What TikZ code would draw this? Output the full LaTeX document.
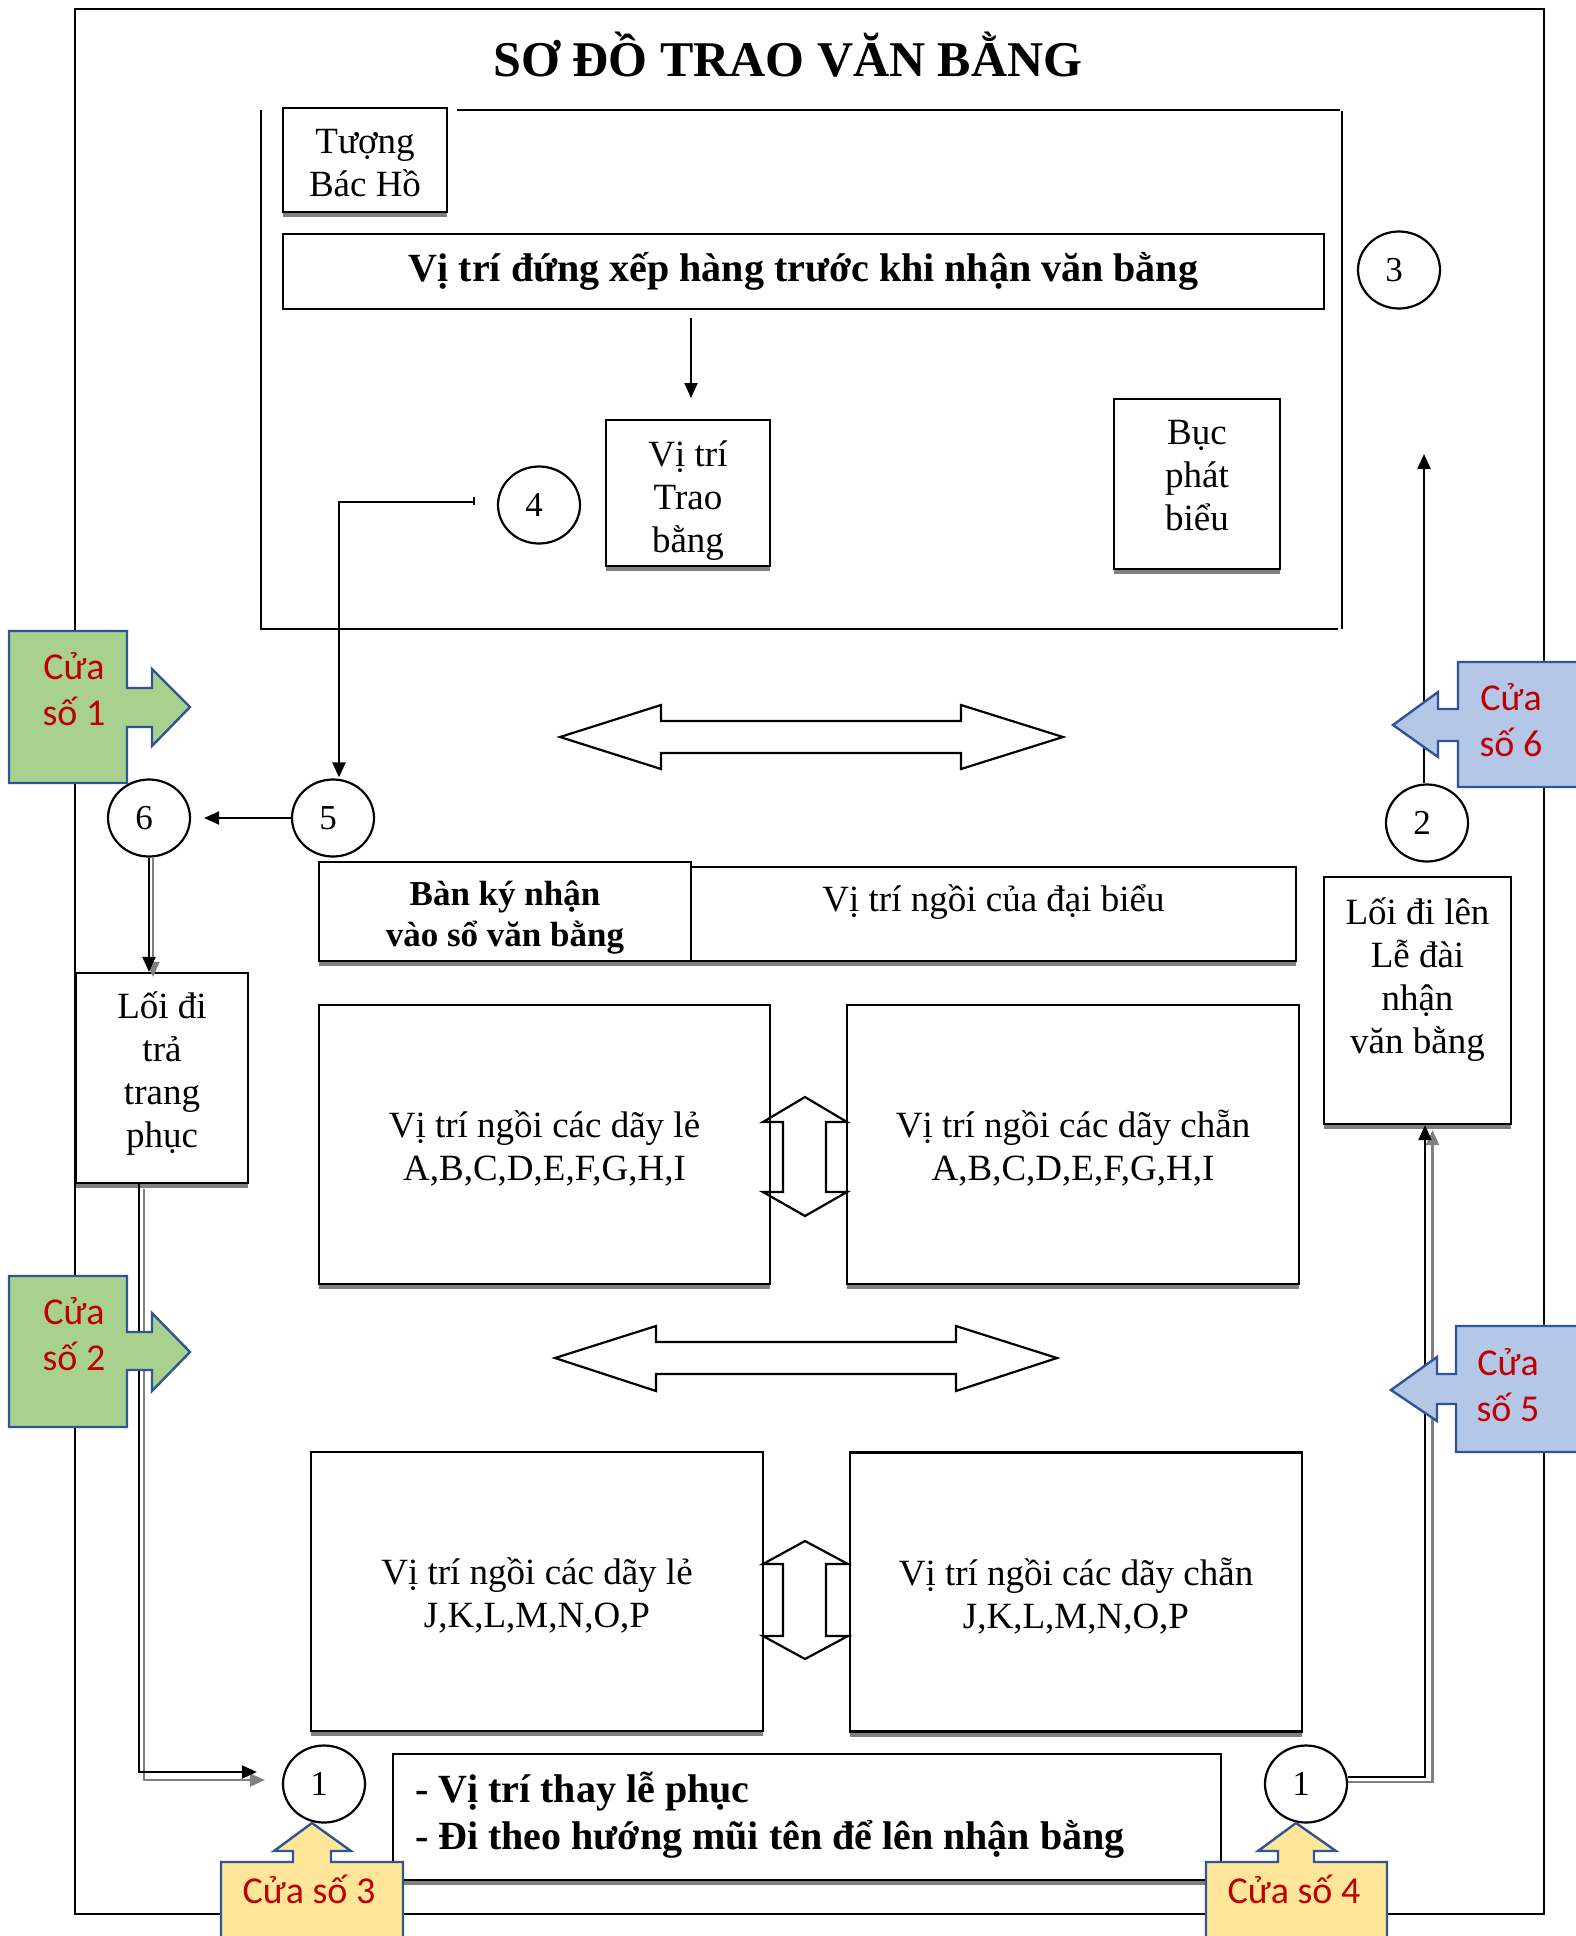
\documentclass[tikz,border=0pt]{standalone}
\usepackage{fontspec}
\setmainfont{Liberation Serif}
\newfontfamily\calibrifont{Carlito}
\usetikzlibrary{arrows.meta,shapes.geometric,shadows}
\definecolor{dred}{HTML}{C00000}
\definecolor{cborder}{HTML}{2F5597}
\definecolor{cgreen}{HTML}{A9D18E}
\definecolor{cblue}{HTML}{B4C7E7}
\definecolor{cyellow}{HTML}{FFE699}
\newcommand{\fReg}{\fontsize{37}{43}\selectfont}
\newcommand{\fNum}{\fontsize{35}{40}\selectfont}
\newcommand{\fBig}{\fontsize{40}{47}\selectfont\bfseries}
\newcommand{\fBan}{\fontsize{35}{41}\selectfont\bfseries}
\newcommand{\fTitle}{\fontsize{50}{60}\selectfont\bfseries}
\newcommand{\fCua}{\calibrifont\fontsize{38}{46}\selectfont}
\begin{document}
\begin{tikzpicture}[x=1pt,y=-1pt,line width=2.2pt,
  box/.style={draw,fill=white,rectangle,inner sep=0pt,align=center,font=\fReg},
  shbox/.style={box,drop shadow={shadow xshift=0pt,shadow yshift=-5pt,fill=black!50,opacity=1}},
  lbl/.style={align=center,font=\fReg,inner sep=0pt},
  num/.style={draw,fill=white,ellipse,minimum width=82pt,minimum height=77pt,inner sep=0pt,
    label={[font=\fNum,inner sep=0pt,xshift=-5pt]center:#1}},
  arr/.style={-{Triangle[length=15pt,width=13pt]}},
  sharr/.style={arr,draw=black!50},
  dblarrow/.style={draw,line join=miter},
  callout/.style={draw=cborder,line width=2.4pt,line join=miter},
  ctext/.style={text=dred,font=\fCua,align=center,inner sep=0pt}]
\useasboundingbox (0,0) rectangle (1576,1936);
\fill[white] (0,0) rectangle (1576,1936);

% outer frame
\draw[line width=2pt] (75,9) rectangle (1544,1914);

% stage outline
\draw (261,110) -- (261,629) -- (1338,629);
\draw (457,110) -- (1340,110);
\draw (1342,111) -- (1342,629);

% boxes
\node[shbox,minimum width=164pt,minimum height=104pt,
  label={[lbl,yshift=-3pt]center:Tượng\\Bác Hồ}] (tuong) at (365,160) {};
\node[box,minimum width=1041pt,minimum height=75pt,font=\fBig] (xephang) at (803.5,271.5) {Vị trí đứng xếp hàng trước khi nhận văn bằng};
\node[shbox,minimum width=164pt,minimum height=146pt,
  label={[lbl,yshift=-8pt]center:Vị trí\\Trao\\bằng}] (trao) at (688,493) {};
\node[shbox,minimum width=166pt,minimum height=170pt,
  label={[lbl,yshift=8pt]center:Bục\\phát\\biểu}] (buc) at (1197,484) {};
\node[shbox,minimum width=372pt,minimum height=99pt,
  label={[lbl,font=\fBan,yshift=-6pt]center:Bàn ký nhận\\vào sổ văn bằng}] (banky) at (505,911.5) {};
\node[shbox,minimum width=605pt,minimum height=94pt,
  label={[lbl,yshift=12pt]center:Vị trí ngồi của đại biểu}] (daibieu) at (993.5,914) {};
\node[shbox,minimum width=172pt,minimum height=210pt,
  label={[lbl,yshift=4pt]center:Lối đi\\trả\\trang\\phục}] (loitra) at (162,1078) {};
\node[shbox,minimum width=187pt,minimum height=247pt,
  label={[lbl,yshift=21pt]center:Lối đi lên\\Lễ đài\\nhận\\văn bằng}] (loilen) at (1417.5,1000.5) {};
\node[shbox,minimum width=451pt,minimum height=279pt,
  label={[lbl,yshift=-4pt]center:Vị trí ngồi các dãy lẻ\\A,B,C,D,E,F,G,H,I}] (seatAL) at (544.5,1144.5) {};
\node[shbox,minimum width=452pt,minimum height=279pt,
  label={[lbl,yshift=-4pt]center:Vị trí ngồi các dãy chẵn\\A,B,C,D,E,F,G,H,I}] (seatAR) at (1073,1144.5) {};
\node[shbox,minimum width=452pt,minimum height=279pt,
  label={[lbl,yshift=-4pt]center:Vị trí ngồi các dãy lẻ\\J,K,L,M,N,O,P}] (seatJL) at (537,1591.5) {};
\node[shbox,minimum width=452pt,minimum height=279pt,
  label={[lbl,yshift=-4pt]center:Vị trí ngồi các dãy chẵn\\J,K,L,M,N,O,P}] (seatJR) at (1076,1592) {};
\node[shbox,minimum width=828pt,minimum height=126pt] (note) at (807,1817) {};
\node[anchor=west,align=left,inner sep=0pt,font=\fBig] (notetext) at (414,1815) {- Vị trí thay lễ phục\\- Đi theo hướng mũi tên để lên nhận bằng};

% numbered circles
\node[num=3] (c3) at (1399,270) {};
\node[num=4] (c4) at (539,505) {};
\node[num=5] (c5) at (333,818) {};
\node[num=6] (c6) at (149,818) {};
\node[num=2] (c2) at (1427,823) {};
\node[num=1] (c1L) at (324,1784) {};
\node[num=1] (c1R) at (1306,1784) {};

% connectors
\coordinate (p4) at (474,502);
\coordinate (up2) at (1424,454);
\draw[arr] ([yshift=-8pt]xephang.south -| 691,0) -- (691,398);
\draw[arr] (p4) -| ([xshift=6pt,yshift=1pt]c5.north);
\draw[line width=1.5pt] (p4) ++(0,-5) -- ++(0,8);
\draw[arr] (c5.west) -- ([xshift=13pt]c6.east);
\draw[arr] (c2.north -| up2) -- (up2);
% 6 -> loi tra (with shadow)
\draw[sharr] ([xshift=4pt]c6.south) -- ([xshift=4pt,yshift=-5pt]c6.south |- loitra.north);
\draw[arr] (c6.south) -- (c6.south |- loitra.north);
% loi tra -> 1 left (with shadow)
\draw[sharr] ([xshift=-18pt,yshift=-5pt]loitra.south) |- ([xshift=-17pt,yshift=4pt]c1L.west);
\draw[arr] ([xshift=-23pt]loitra.south) |- ([xshift=-25pt,yshift=12pt]c1L.west);
% 1 right -> loi len (with shadow)
\draw[sharr] ([yshift=2pt]c1R.east) -| ([xshift=15pt,yshift=-5pt]loilen.south);
\draw[arr] ([yshift=7pt]c1R.east) -| ([xshift=7.5pt]loilen.south);

% double arrows
\draw[dblarrow] (560,737) -- (661,705) -- (661,721) -- (961,721) -- (961,705) -- (1063,737) -- (961,769) -- (961,753) -- (661,753) -- (661,769) -- cycle;
\draw[dblarrow] (555,1358) -- (656,1326) -- (656,1342) -- (956,1342) -- (956,1326) -- (1057,1358) -- (956,1391) -- (956,1374) -- (656,1374) -- (656,1391) -- cycle;
\draw[dblarrow] (805,1097) -- (847,1122) -- (826,1122) -- (826,1192) -- (847,1192) -- (805,1216) -- (763,1192) -- (783,1192) -- (783,1122) -- (763,1122) -- cycle;
\draw[dblarrow] (805,1541) -- (848,1564) -- (826,1564) -- (826,1636) -- (848,1636) -- (805,1659) -- (763,1636) -- (783,1636) -- (783,1564) -- (763,1564) -- cycle;

% callouts (doors)
\filldraw[callout,fill=cgreen] (9,631) -- (127,631) -- (127,688) -- (152,688) -- (152,669) -- (190,707) -- (152,746) -- (152,727) -- (127,727) -- (127,783) -- (9,783) -- cycle;
\node[ctext] (d1) at (74,689) {Cửa\\số 1};
\filldraw[callout,fill=cgreen] (9,1276) -- (127,1276) -- (127,1332) -- (152,1332) -- (152,1313) -- (190,1352) -- (152,1391) -- (152,1370) -- (127,1370) -- (127,1427) -- (9,1427) -- cycle;
\node[ctext] (d2) at (74,1334) {Cửa\\số 2};
\filldraw[callout,fill=cblue] (1590,662) -- (1458,662) -- (1458,709) -- (1438,709) -- (1438,692) -- (1393,725) -- (1438,757) -- (1438,741) -- (1458,741) -- (1458,787) -- (1590,787) -- cycle;
\node[ctext] (d6) at (1511,720.5) {Cửa\\số 6};
\filldraw[callout,fill=cblue] (1590,1326) -- (1456,1326) -- (1456,1374) -- (1437,1374) -- (1437,1357) -- (1391,1390) -- (1437,1421) -- (1437,1404) -- (1456,1404) -- (1456,1452) -- (1590,1452) -- cycle;
\node[ctext] (d5) at (1508,1385) {Cửa\\số 5};
\filldraw[callout,fill=cyellow] (221,1950) -- (221,1862) -- (293,1862) -- (293,1851) -- (274,1851) -- (312,1823) -- (351,1851) -- (331,1851) -- (331,1862) -- (403,1862) -- (403,1950) -- cycle;
\node[ctext] (d3) at (309,1889) {Cửa số 3};
\filldraw[callout,fill=cyellow] (1206,1950) -- (1206,1862) -- (1278,1862) -- (1278,1851) -- (1258,1851) -- (1296,1823) -- (1336,1851) -- (1314,1851) -- (1314,1862) -- (1387,1862) -- (1387,1950) -- cycle;
\node[ctext] (d4) at (1294,1889) {Cửa số 4};

% title
\node[font=\fTitle,inner sep=0pt] (title) at (788,55) {SƠ ĐỒ TRAO VĂN BẰNG};
\end{tikzpicture}
\end{document}
